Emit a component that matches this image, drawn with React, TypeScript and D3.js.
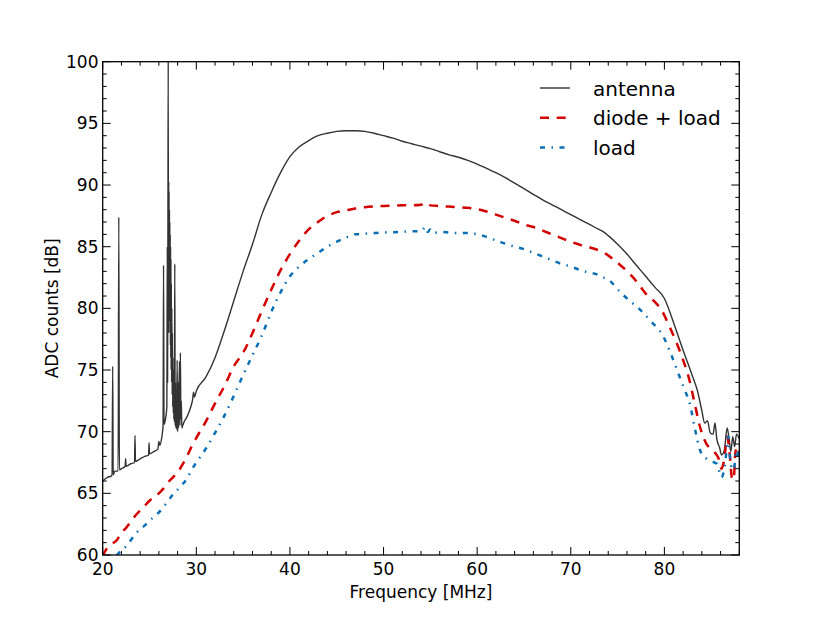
import React, { useEffect, useRef } from 'react'
import * as d3 from 'd3'

// antenna spectrum, including the RFI spikes below 30 MHz
const antennaFreq = [
  20.0, 20.5, 20.9, 21.0, 21.07, 21.12, 21.3, 21.65, 21.72, 21.78, 22.0, 22.4, 22.45, 22.5, 23.0,
  23.4, 23.45, 23.5, 24.0, 24.5, 24.9, 24.95, 25.0, 25.5, 25.9, 26.0, 26.1, 26.3, 26.45, 26.5,
  26.55, 26.7, 26.85, 26.9, 26.93, 26.97, 27.0, 27.02, 27.05, 27.07, 27.09, 27.11, 27.13, 27.15,
  27.17, 27.19, 27.21, 27.23, 27.25, 27.27, 27.29, 27.31, 27.33, 27.36, 27.39, 27.42, 27.45, 27.48,
  27.51, 27.54, 27.57, 27.6, 27.63, 27.66, 27.7, 27.74, 27.78, 27.82, 27.86, 27.9, 27.95, 28.0,
  28.05, 28.1, 28.15, 28.2, 28.25, 28.3, 28.35, 28.4, 28.45, 28.5, 28.7, 29.0, 29.4, 29.6, 29.7,
  29.8, 30.0, 31, 32, 33, 34, 35, 36, 37, 38, 39, 40, 41, 42, 43, 44, 45, 46, 47, 48, 49, 50, 51,
  52, 53, 54, 55, 56, 57, 58, 59, 60, 61, 62, 63, 64, 65, 66, 67, 68, 69, 70, 71, 72, 73, 73.5, 74,
  75, 76, 77, 78, 79, 80, 81, 82, 83, 83.5, 84, 84.3, 84.6, 84.9, 85.2, 85.4, 85.6, 85.9, 86.1,
  86.4, 86.7, 86.9, 87.1, 87.3, 87.5, 87.7, 88.0,
]
const antennaDb = [
  66.0, 66.3, 66.4, 66.5, 75.3, 66.5, 66.8, 66.8, 87.4, 66.9, 67.0, 67.2, 67.8, 67.2, 67.4,
  67.5, 69.7, 67.6, 67.8, 68.0, 68.1, 69.1, 68.2, 68.4, 68.6, 69.2, 68.9, 69.5, 70.5, 83.5,
  70.6, 71.0, 72.0, 85.0, 74.0, 88.0, 100.0, 78.0, 90.3, 80.0, 89.5, 79.0, 88.0, 81.0,
  87.0, 78.0, 86.0, 77.0, 85.0, 76.0, 84.0, 75.0, 82.0, 74.0, 80.0, 73.0, 78.0, 72.0,
  76.0, 71.5, 75.0, 71.0, 74.0, 70.8, 83.6, 70.5, 74.0, 70.3, 73.0, 70.2, 75.8, 70.0,
  74.0, 70.3, 73.0, 75.7, 70.5, 76.4, 71.0, 72.5, 70.3, 70.4, 70.8, 71.2, 72.0, 72.6, 73.2,
  72.8, 73.3, 74.4, 76.0, 78.2, 80.6, 83.0, 85.2, 87.6, 89.4, 91.0, 92.3, 93.1, 93.6, 94.0, 94.2,
  94.35, 94.4, 94.4, 94.35, 94.2, 94.0, 93.8, 93.55, 93.35, 93.15, 92.95, 92.7, 92.45, 92.25, 92.0,
  91.7, 91.35, 91.0, 90.6, 90.15, 89.7, 89.25, 88.8, 88.4, 88.0, 87.6, 87.2, 86.8, 86.4, 86.2, 85.9,
  85.2, 84.4, 83.5, 82.6, 81.7, 80.8, 78.8, 76.6, 74.5, 73.4, 71.7, 70.7, 70.9, 69.9, 69.8, 70.7,
  69.4, 68.7, 68.1, 68.5, 70.3, 69.5, 68.4, 69.6, 68.8, 69.8, 69.4,
]

// diode + load
const diodeFreq = [
  20.0, 20.25, 21, 21.5, 22, 22.5, 23, 23.5, 24, 24.5, 25, 25.5, 26, 26.5, 27, 27.5, 28, 28.5, 29,
  29.5, 30, 31, 32, 33, 34, 35, 36, 37, 38, 39, 40, 41, 42, 43, 44, 45, 46, 47, 48, 50, 52, 53, 54,
  54.5, 55, 56, 57, 58, 59, 60, 61, 62, 63, 64, 65, 66, 67, 68, 69, 70, 71, 72, 73, 73.8, 74.5,
  75.3, 76.3, 77, 78, 79, 79.7, 80.5, 81.3, 82, 82.6, 83.2, 83.8, 84.5, 85, 85.4, 85.8, 86.1, 86.4,
  86.7, 87.0, 87.2, 87.4, 87.55, 87.7, 88.0,
]
const diodeDb = [
  59.9, 60.3, 60.9, 61.2, 61.8, 62.2, 62.7, 63.2, 63.6, 64.0, 64.4, 64.7, 65.0, 65.4, 65.9, 66.3,
  66.7, 67.3, 68.0, 68.8, 69.5, 70.8, 72.3, 73.7, 75.3, 76.4, 78.0, 79.8, 81.5, 83.1, 84.4, 85.5,
  86.4, 87.0, 87.5, 87.8, 87.95, 88.1, 88.2, 88.3, 88.35, 88.35, 88.4, 88.6, 88.35, 88.3, 88.25,
  88.2, 88.15, 88.05, 87.85, 87.6, 87.35, 87.1, 86.8, 86.6, 86.3, 86.0, 85.7, 85.4, 85.15, 84.95,
  84.7, 84.4, 84.0, 83.5, 82.8, 82.2, 81.2, 80.5, 79.85, 78.6, 77.2, 75.8, 74.4, 72.4, 70.4, 69.0,
  68.6, 68.3, 67.8, 67.0, 67.8, 69.6, 68.0, 66.3, 66.1, 68.0, 68.8, 68.3,
]

// load only
const loadFreq = [
  21.5, 22, 22.5, 23, 23.5, 24, 24.5, 25, 25.5, 26, 26.5, 27, 27.5, 28, 28.5, 29, 29.5, 30, 31, 32,
  33, 34, 35, 36, 37, 38, 39, 40, 41, 42, 43, 44, 45, 46, 47, 48, 49, 50, 52, 53, 54, 54.5, 54.7,
  55, 55.3, 56, 57, 58, 59, 60, 61, 62, 63, 64, 65, 66, 67, 68, 69, 70, 71, 72, 73, 73.5, 74.2,
  75.3, 76.3, 77.4, 78.5, 79.9, 80.7, 81.5, 82.1, 82.7, 83.3, 83.8, 84.5, 85.0, 85.6, 86.1, 86.5,
  86.8, 87.1, 87.4, 87.7, 88.0,
]
const loadDb = [
  59.95, 60.4, 60.7, 61.2, 61.7, 62.1, 62.4, 62.8, 63.1, 63.45, 63.9, 64.4, 64.9, 65.3, 65.7, 66.2,
  66.9, 67.5, 68.6, 69.9, 71.3, 72.9, 74.6, 76.2, 77.8, 79.7, 81.3, 82.6, 83.4, 84.0, 84.5, 85.0,
  85.4, 85.75, 86.0, 86.05, 86.1, 86.15, 86.2, 86.25, 86.25, 86.6, 86.2, 86.4, 86.1, 86.2, 86.15,
  86.1, 86.1, 86.0, 85.8, 85.5, 85.25, 85.0, 84.8, 84.5, 84.2, 83.9, 83.6, 83.4, 83.1, 82.9, 82.7,
  82.5, 82.2, 81.3, 80.6, 79.9, 79.0, 77.7, 76.3, 74.7, 73.5, 72.3, 70.1, 68.5, 67.8, 67.6, 67.4,
  66.3, 67.5, 69.6, 67.3, 66.9, 68.5, 67.6,
]

const xTicks = [20, 30, 40, 50, 60, 70, 80]
const yTicks = [60, 65, 70, 75, 80, 85, 90, 95, 100]

const seriesNames = ['antenna', 'diode + load', 'load']

const W = 822
const H = 617
const margin = { left: 102.7, right: 82.7, top: 61.7, bottom: 62 }
const FONT = 'DejaVu Sans, sans-serif'

const App: React.FC = () => {
  const svgRef = useRef<SVGSVGElement | null>(null)

  useEffect(() => {
    const svg = d3.select(svgRef.current)
    svg.selectAll('*').remove()

    const x = d3.scaleLinear().domain([20, 88]).range([margin.left, W - margin.right])
    const y = d3.scaleLinear().domain([60, 100]).range([H - margin.bottom, margin.top])
    const [x0, x1] = x.range()
    const [y0, y1] = y.range()

    svg.append('defs').append('clipPath').attr('id', 'plot-clip')
      .append('rect').attr('x', x0).attr('y', y1).attr('width', x1 - x0).attr('height', y0 - y1)

    const styles = [
      { color: '#333333', width: 1.4, dash: null as string | null },
      { color: '#d40000', width: 2.5, dash: '9,7.7' },
      { color: '#0a6fb5', width: 2.5, dash: '5,6.5,1.5,6.5' },
    ]
    const series = [
      d3.zip(antennaFreq, antennaDb),
      d3.zip(diodeFreq, diodeDb),
      d3.zip(loadFreq, loadDb),
    ]

    const line = d3.line<number[]>()
      .x((d) => x(d[0]))
      .y((d) => y(d[1]))
      .curve(d3.curveMonotoneX)
    const plot = svg.append('g').attr('clip-path', 'url(#plot-clip)')
    series.forEach((s, i) => {
      plot.append('path')
        .datum(s)
        .attr('d', line)
        .attr('fill', 'none')
        .attr('stroke', styles[i].color)
        .attr('stroke-width', styles[i].width)
        .attr('stroke-dasharray', styles[i].dash)
        .attr('stroke-linejoin', 'round')
    })

    // ticks on all four sides, pointing inward
    const ax = svg.append('g').attr('stroke', '#000').attr('stroke-width', 1)
    d3.range(20, 89, 2).forEach((v) => {
      const len = v % 10 === 0 ? 8 : 4
      ax.append('line').attr('x1', x(v)).attr('x2', x(v)).attr('y1', y0).attr('y2', y0 - len)
      ax.append('line').attr('x1', x(v)).attr('x2', x(v)).attr('y1', y1).attr('y2', y1 + len)
    })
    d3.range(60, 101, 1).forEach((v) => {
      const len = v % 5 === 0 ? 8 : 4
      ax.append('line').attr('x1', x0).attr('x2', x0 + len).attr('y1', y(v)).attr('y2', y(v))
      ax.append('line').attr('x1', x1).attr('x2', x1 - len).attr('y1', y(v)).attr('y2', y(v))
    })

    svg.append('rect')
      .attr('x', x0).attr('y', y1).attr('width', x1 - x0).attr('height', y0 - y1)
      .attr('fill', 'none').attr('stroke', '#000').attr('stroke-width', 1.3)

    const labels = svg.append('g').attr('font-family', FONT).attr('font-size', 17).attr('fill', '#000')
    xTicks.forEach((v) => {
      labels.append('text').attr('x', x(v)).attr('y', 575).attr('text-anchor', 'middle').text(v)
    })
    yTicks.forEach((v) => {
      labels.append('text').attr('x', 98.5).attr('y', y(v) + 6).attr('text-anchor', 'end').text(v)
    })
    labels.append('text').attr('x', (x0 + x1) / 2).attr('y', 598).attr('text-anchor', 'middle')
      .text('Frequency [MHz]')
    labels.append('text').attr('transform', `translate(58,${(y0 + y1) / 2}) rotate(-90)`)
      .attr('text-anchor', 'middle').text('ADC counts [dB]')

    // legend
    const legend = svg.append('g').attr('font-family', FONT).attr('font-size', 20)
    seriesNames.forEach((name, i) => {
      const ly = 88 + i * 29.7
      legend.append('line')
        .attr('x1', 540).attr('x2', 570).attr('y1', ly).attr('y2', ly)
        .attr('stroke', styles[i].color)
        .attr('stroke-width', styles[i].width)
        .attr('stroke-dasharray', styles[i].dash)
      legend.append('text').attr('x', 593).attr('y', ly + 7.5).text(name)
    })
  }, [])

  return (
    <svg
      ref={svgRef}
      width={W}
      height={H}
      style={{ position: 'absolute', left: 0, top: 0, background: '#fff' }}
    />
  )
}

export default App
